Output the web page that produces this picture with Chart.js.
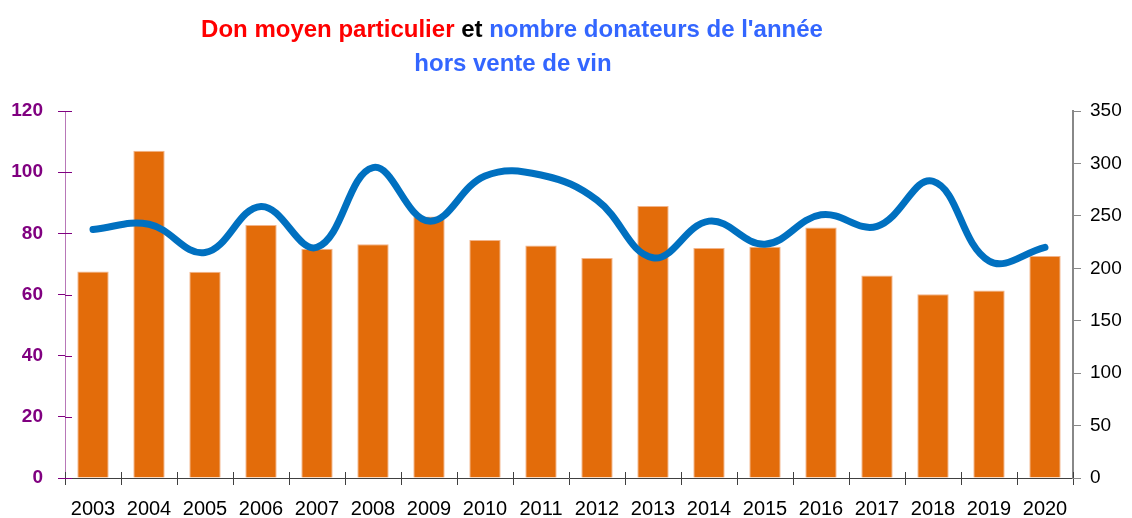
<!DOCTYPE html>
<html>
<head>
<meta charset="utf-8">
<script src="https://cdn.jsdelivr.net/npm/chart.js@4/dist/chart.umd.min.js"></script>
<style>
  html, body { margin: 0; padding: 0; background: #fff; }
  #wrap { position: relative; width: 1132px; height: 518px; }
</style>
</head>
<body>
<div id="wrap"><canvas id="c" width="1132" height="518"></canvas></div>
<script>
// ---- Data ----
const years = ['2003','2004','2005','2006','2007','2008','2009','2010','2011','2012','2013','2014','2015','2016','2017','2018','2019','2020'];
const donMoyen = [67.5, 107, 67.4, 82.7, 75.0, 76.4, 85.5, 77.8, 76.0, 71.9, 88.9, 75.2, 75.6, 81.9, 66.2, 60.1, 61.3, 72.6];
const nbDonateurs = [237, 242, 215, 259, 220, 296, 245, 288, 289, 265, 210, 245, 223, 251, 240, 283, 207, 220];
const leftTicks = [0, 20, 40, 60, 80, 100, 120];
const rightTicks = [0, 50, 100, 150, 200, 250, 300, 350];
const titleLine1 = [
  { text: 'Don moyen particulier', color: '#FF0000' },
  { text: ' et ', color: '#000000' },
  { text: "nombre donateurs de l'année", color: '#3366FF' }
];
const titleLine2 = [{ text: 'hors vente de vin', color: '#3366FF' }];

const FONT = "'Liberation Sans', Arial, sans-serif";

// title plugin (multi-coloured title)
const titlePlugin = {
  id: 'multiTitle',
  afterDraw(chart) {
    const ctx = chart.ctx;
    ctx.save();
    ctx.font = "bold 24px " + FONT;
    ctx.textBaseline = 'alphabetic';
    ctx.textAlign = 'left';
    const drawLine = (segs, cx, y) => {
      const w = segs.reduce((s, g) => s + ctx.measureText(g.text).width, 0);
      let x = cx - w / 2;
      segs.forEach(g => { ctx.fillStyle = g.color; ctx.fillText(g.text, x, y); x += ctx.measureText(g.text).width; });
    };
    drawLine(titleLine1, 512, 37);
    drawLine(titleLine2, 513, 71);
    ctx.restore();
  }
};

// inner halves of crossing tick marks
const innerTicks = {
  id: 'innerTicks',
  afterDatasetsDraw(chart) {
    const ctx = chart.ctx;
    const yl = chart.scales.y;
    const xs = chart.scales.x;
    ctx.save();
    ctx.lineWidth = 1;
    ctx.strokeStyle = '#800080';
    yl.ticks.forEach((t, i) => {
      const py = Math.round(yl.getPixelForTick(i)) + 0.5;
      ctx.beginPath(); ctx.moveTo(yl.right, py); ctx.lineTo(yl.right + 7, py); ctx.stroke();
    });
    ctx.strokeStyle = '#404040';
    for (let i = 0; i <= years.length; i++) {
      const px = Math.round(xs.getPixelForValue(i - 0.5)) + 0.5;
      ctx.beginPath(); ctx.moveTo(px, xs.top); ctx.lineTo(px, xs.top - 6); ctx.stroke();
    }
    ctx.restore();
  }
};

new Chart(document.getElementById('c'), {
  data: {
    labels: years,
    datasets: [
      {
        type: 'line',
        label: 'Nombre donateurs',
        data: nbDonateurs,
        yAxisID: 'y2',
        borderColor: '#0070C0',
        borderWidth: 7,
        pointRadius: 0,
        tension: 0.4,
        borderCapStyle: 'round',
        borderJoinStyle: 'round',
        fill: false,
        order: 0
      },
      {
        type: 'bar',
        label: 'Don moyen particulier',
        data: donMoyen,
        yAxisID: 'y',
        backgroundColor: '#E36C0A',
        borderColor: '#F2B48A',
        borderWidth: { left: 1, right: 1, top: 1, bottom: 0 },
        barPercentage: 0.56,
        categoryPercentage: 1.0,
        order: 1
      }
    ]
  },
  options: {
    responsive: false,
    animation: false,
    devicePixelRatio: 1,
    layout: { padding: { top: 111, bottom: 0, left: 0, right: 0 } },
    plugins: { legend: { display: false }, tooltip: { enabled: false }, title: { display: false } },
    scales: {
      x: {
        type: 'category',
        offset: true,
        grid: { display: true, drawOnChartArea: false, offset: true, tickLength: 7, color: '#404040', tickColor: '#404040' },
        border: { display: true, color: '#404040', width: 1 },
        ticks: { color: '#000', font: { family: FONT, size: 20 }, padding: 12, maxRotation: 0, autoSkip: false },
        afterFit(s) { s.height = 40; }
      },
      y: {
        position: 'left',
        min: 0, max: 120,
        afterBuildTicks(s) { s.ticks = leftTicks.map(v => ({ value: v })); },
        grid: { drawOnChartArea: false, tickLength: 7, color: '#800080', tickColor: '#800080' },
        border: { display: true, color: '#B878B8', width: 1 },
        ticks: { color: '#800080', font: { family: FONT, size: 19, weight: 'bold' }, padding: 15 },
        afterFit(s) { s.width = 65; }
      },
      y2: {
        position: 'right',
        min: 0, max: 350,
        afterBuildTicks(s) { s.ticks = rightTicks.map(v => ({ value: v })); },
        grid: { drawOnChartArea: false, tickLength: 8, color: '#888888', tickColor: '#888888' },
        border: { display: true, color: '#888888', width: 2 },
        ticks: { color: '#000', font: { family: FONT, size: 19 }, padding: 9 },
        afterFit(s) { s.width = 59; }
      }
    }
  },
  plugins: [titlePlugin, innerTicks]
});
</script>
</body>
</html>
